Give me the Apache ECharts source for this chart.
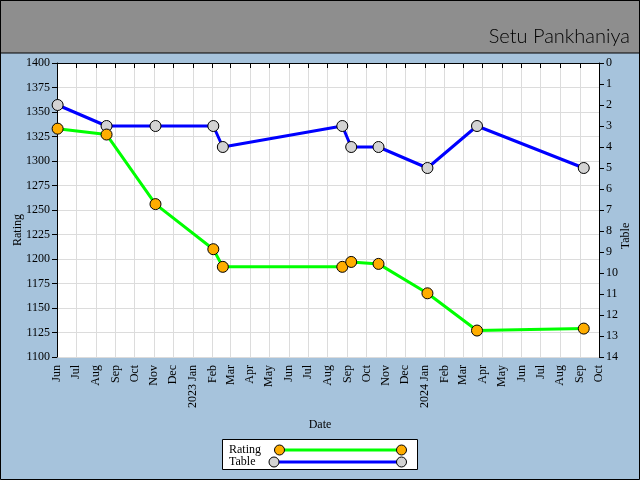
<!DOCTYPE html>
<html><head><meta charset="utf-8">
<script src="https://cdn.jsdelivr.net/npm/echarts@6/dist/echarts.min.js"></script>
<style>html,body{margin:0;padding:0;background:#a6c3dc;}#c{width:640px;height:480px;}</style>
</head><body><div id="c"></div>
<script>
const dates = ['2022-06-02','2022-08-18','2022-11-03','2023-02-02','2023-02-17','2023-08-24','2023-09-07','2023-10-20','2024-01-05','2024-03-23','2024-09-07'];
const rating = [1333,1327,1256,1210,1192,1192,1197,1195,1165,1127,1129];
const table = [2,3,3,3,4,3,4,4,5,3,5];
const monthNames = ['Jan','Feb','Mar','Apr','May','Jun','Jul','Aug','Sep','Oct','Nov','Dec'];
const xMin = '2022-06-01', xMax = '2024-10-01';
const titleText = 'Setu Pankhaniya';

const FONT = 'Liberation Serif';
const chart = echarts.init(document.getElementById('c'), null, {renderer:'canvas'});
const pts = (vals) => dates.map((d,i)=>[d, vals[i]]);

chart.setOption({
  backgroundColor: '#a6c3dc',
  animation: false,
  textStyle: {fontFamily: FONT},
  grid: {left: 57, right: 41, top: 63, bottom: 123, show: true, backgroundColor: '#ffffff', borderWidth: 0, containLabel: false},
  xAxis: {
    type: 'time', min: xMin, max: xMax, splitNumber: 28,
    axisLine: {lineStyle: {color: '#000', width: 1}},
    axisTick: {show: true, length: 5, lineStyle: {color: '#000'}},
    axisLabel: {
      rotate: 90, color: '#000', fontFamily: FONT, fontSize: 12, margin: 8, interval: 0,
      showMinLabel: true, showMaxLabel: true, hideOverlap: false,
      formatter: function (v) {
        const d = new Date(v);
        const m = d.getMonth();
        return m === 0 ? d.getFullYear() + ' Jan' : monthNames[m];
      }
    },
    splitLine: {show: true, lineStyle: {color: '#dcdcdc', width: 1}}
  },
  yAxis: [{
    type: 'value', min: 1100, max: 1400, interval: 25, position: 'left',
    axisLine: {show: true, lineStyle: {color: '#000'}},
    axisTick: {show: true, length: 5, lineStyle: {color: '#000'}},
    axisLabel: {color: '#000', fontFamily: FONT, fontSize: 12, margin: 7, formatter: v => String(v)},
    splitLine: {show: true, lineStyle: {color: '#dcdcdc', width: 1}}
  }, {
    type: 'value', min: 0, max: 14, interval: 1, inverse: true, position: 'right',
    axisLine: {show: true, lineStyle: {color: '#000'}},
    axisTick: {show: true, length: 5, lineStyle: {color: '#000'}},
    axisLabel: {color: '#000', fontFamily: FONT, fontSize: 12, margin: 7, formatter: v => String(v)},
    splitLine: {show: false}
  }],
  series: [{
    name: 'Table', type: 'line', yAxisIndex: 1, data: pts(table),
    symbol: 'circle', symbolSize: 11,
    lineStyle: {color: '#0000ff', width: 3},
    itemStyle: {color: '#d3d3d3', borderColor: '#000', borderWidth: 1}
  }, {
    name: 'Rating', type: 'line', yAxisIndex: 0, data: pts(rating),
    symbol: 'circle', symbolSize: 11,
    lineStyle: {color: '#00ff00', width: 3},
    itemStyle: {color: '#ffad00', borderColor: '#000', borderWidth: 1}
  }],
  graphic: [
    {type: 'rect', z: -10, shape: {x: 0.5, y: 0.5, width: 639, height: 52.5}, style: {fill: '#8e8e8e', stroke: '#000', lineWidth: 1}},
    {type: 'rect', z: 100, silent: true, shape: {x: 0.5, y: 0.5, width: 639, height: 479}, style: {fill: null, stroke: '#000', lineWidth: 1}},
    {type: 'text', x: 630, y: 37, style: {text: titleText, fill: '#000', font: '300 20px "Lato"', align: 'right', verticalAlign: 'middle'}},
    {type: 'text', x: 18, y: 230, rotation: Math.PI/2, style: {text: 'Rating', fill: '#000', font: '12px "Liberation Serif"', align: 'center', verticalAlign: 'middle'}},
    {type: 'text', x: 626, y: 236, rotation: Math.PI/2, style: {text: 'Table', fill: '#000', font: '12px "Liberation Serif"', align: 'center', verticalAlign: 'middle'}},
    {type: 'text', x: 320, y: 425, style: {text: 'Date', fill: '#000', font: '12px "Liberation Serif"', align: 'center', verticalAlign: 'middle'}},
    {type: 'rect', shape: {x: 222.5, y: 439.5, width: 195, height: 30}, style: {fill: '#fff', stroke: '#000', lineWidth: 1}},
    {type: 'text', x: 229, y: 450, style: {text: 'Rating', fill: '#000', font: '12px "Liberation Serif"', align: 'left', verticalAlign: 'middle'}},
    {type: 'text', x: 229, y: 462, style: {text: 'Table', fill: '#000', font: '12px "Liberation Serif"', align: 'left', verticalAlign: 'middle'}},
    {type: 'line', shape: {x1: 280, y1: 450, x2: 402, y2: 450}, style: {stroke: '#00ff00', lineWidth: 3}},
    {type: 'line', shape: {x1: 274, y1: 462, x2: 402, y2: 462}, style: {stroke: '#0000ff', lineWidth: 3}},
    {type: 'circle', shape: {cx: 279.5, cy: 450, r: 5}, style: {fill: '#ffad00', stroke: '#000', lineWidth: 1}},
    {type: 'circle', shape: {cx: 401.5, cy: 450, r: 5}, style: {fill: '#ffad00', stroke: '#000', lineWidth: 1}},
    {type: 'circle', shape: {cx: 274, cy: 462, r: 5}, style: {fill: '#d3d3d3', stroke: '#000', lineWidth: 1}},
    {type: 'circle', shape: {cx: 401.5, cy: 462, r: 5}, style: {fill: '#d3d3d3', stroke: '#000', lineWidth: 1}}
  ]
});
</script></body></html>
